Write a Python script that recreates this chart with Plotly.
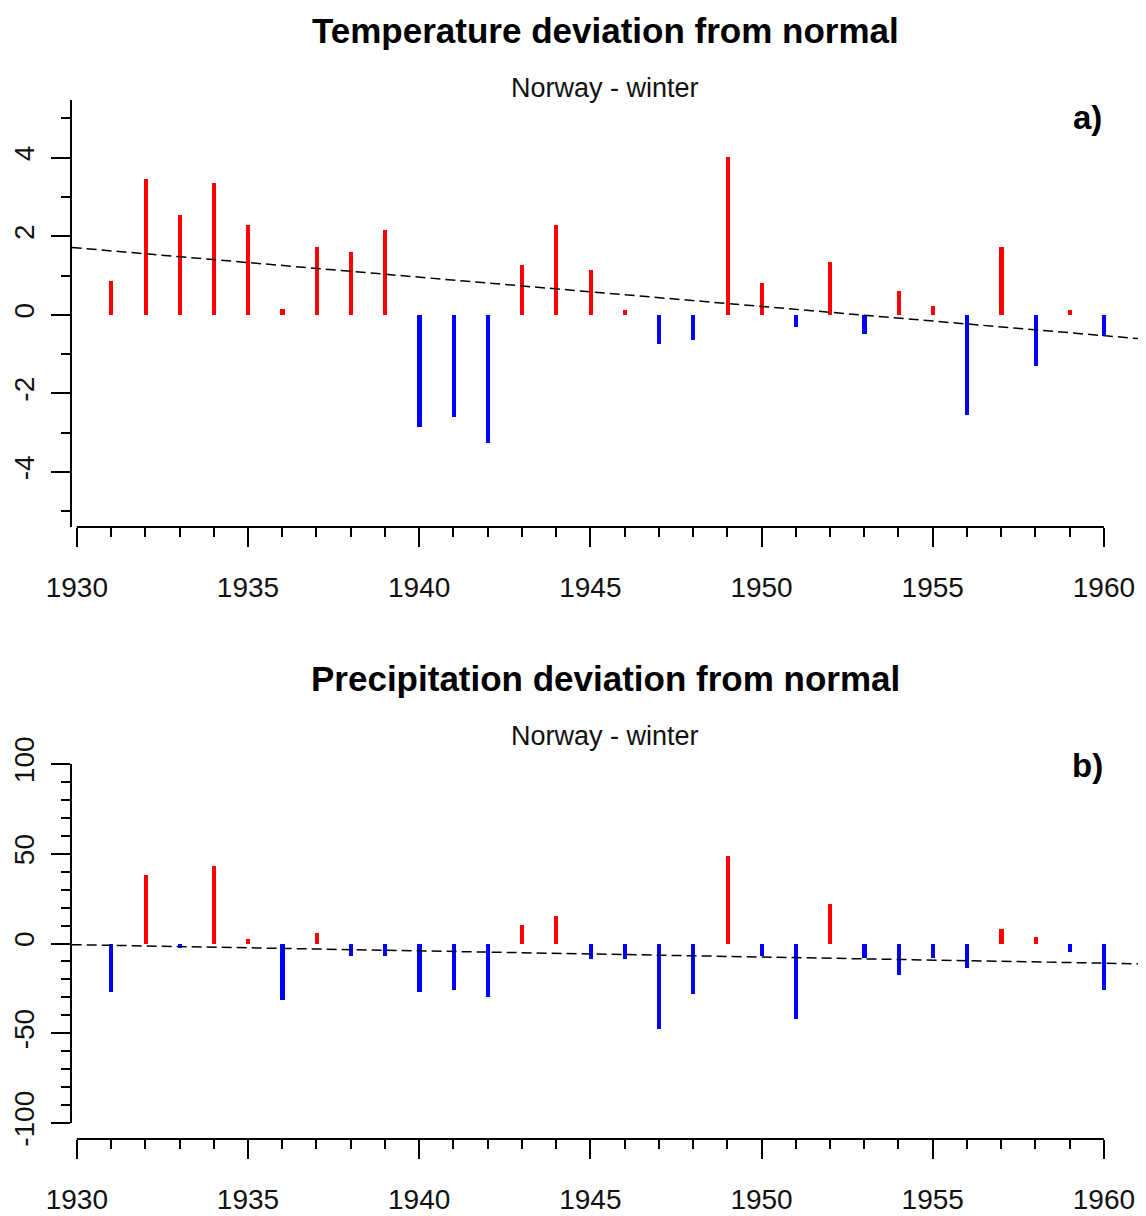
import numpy as np
import plotly.graph_objects as go

# ---------------- data ----------------
years = list(range(1931, 1961))
temp_dev = [0.85, 3.45, 2.55, 3.35, 2.30, 0.15, 1.72, 1.60, 2.15, -2.86,
            -2.61, -3.25, 1.28, 2.30, 1.13, 0.12, -0.75, -0.64, 4.02, 0.80,
            -0.30, 1.35, -0.49, 0.60, 0.22, -2.56, 1.73, -1.29, 0.12, -0.53]
precip_dev = [-27.0, 38.0, -2.5, 43.3, 2.6, -31.5, 5.9, -6.7, -6.7, -27.0,
              -26.0, -30.0, 10.2, 15.6, -8.9, -8.9, -47.4, -28.3, 48.5, -6.7,
              -42.2, 22.0, -8.0, -17.6, -8.0, -13.5, 8.1, 3.7, -4.6, -26.0]
x_tick_vals = [1930, 1935, 1940, 1945, 1950, 1955, 1960]
temp_tick_vals = [-4, -2, 0, 2, 4]
precip_tick_vals = [-100, -50, 0, 50, 100]
titles = ["Temperature deviation from normal", "Precipitation deviation from normal"]
subtitle = "Norway - winter"
panel_labels = ["a)", "b)"]

# ---------------- layout helpers ----------------
# the page body adds an 8px margin, so the figure is laid out in page pixels minus 8
OFF = 8
W, H = 1146 - OFF, 1216 - OFF
def py(p):
    return 1 - (p - OFF) / H
def px(p):
    return (p - OFF) / W

FONT = "Liberation Sans, Arial, Helvetica, sans-serif"
RED, BLUE = "#FF0000", "#0000FF"
XR = [1929.85, 1961.23]

fig = go.Figure()

def add_panel(vals, xa, ya):
    colors = [RED if v >= 0 else BLUE for v in vals]
    fig.add_trace(go.Bar(x=years, y=vals, base=0, width=0.12,
                         marker=dict(color=colors, line=dict(width=0)),
                         xaxis=xa, yaxis=ya, showlegend=False))
    coef = np.polyfit(years, vals, 1)
    tx = np.array(XR)
    fig.add_trace(go.Scatter(x=tx, y=np.polyval(coef, tx), mode="lines",
                             line=dict(color="black", width=1.5, dash="10px,5px"),
                             xaxis=xa, yaxis=ya, showlegend=False, cliponaxis=False))

add_panel(temp_dev, "x", "y")
add_panel(precip_dev, "x2", "y2")

def lab(v):
    return str(v).replace("\u2212", "-")

tickfont = dict(family=FONT, size=28, color="#111111")
xbase = dict(range=XR, tickmode="array", tickvals=x_tick_vals,
             ticktext=[lab(v) for v in x_tick_vals], ticks="outside", ticklen=19,
             tickwidth=2, tickcolor="black", showline=False, showgrid=False,
             zeroline=False, tickfont=tickfont, ticklabelstandoff=16, automargin=False,
             minor=dict(tickmode="array",
                        tickvals=[y for y in years if y % 5 != 0],
                        ticks="outside", ticklen=9, tickwidth=2, tickcolor="black",
                        showgrid=False))
ybase = dict(ticks="outside", ticklen=19, tickwidth=2, tickcolor="black",
             showline=True, linecolor="black", linewidth=2, showgrid=False,
             zeroline=False, tickfont=tickfont, tickangle=-90, ticklabelstandoff=6,
             automargin=False)

dom_x = [px(71.7), 1.0]
fig.update_layout(
    template="none",
    width=W, height=H, margin=dict(l=0, r=0, t=0, b=0, autoexpand=False),
    paper_bgcolor="white", plot_bgcolor="white", bargap=0,
    xaxis=dict(domain=dom_x, anchor="y", **xbase),
    yaxis=dict(domain=[py(527), py(100)], range=[-5.4, 5.47], anchor="x",
               tickmode="array", tickvals=temp_tick_vals,
               ticktext=[lab(v) for v in temp_tick_vals],
               minor=dict(dtick=1, ticks="outside", ticklen=9, tickwidth=2,
                          tickcolor="black", showgrid=False), **ybase),
    xaxis2=dict(domain=dom_x, anchor="free", position=py(1139), **xbase),
    yaxis2=dict(domain=[py(1123), py(764)], range=[-100, 100], anchor="x2",
                tickmode="array", tickvals=precip_tick_vals,
                ticktext=[lab(v) for v in precip_tick_vals],
                minor=dict(dtick=10, ticks="outside", ticklen=9, tickwidth=2,
                           tickcolor="black", showgrid=False), **ybase),
)

# x-axis lines spanning only the labelled years
for xr, yp in (("x", 527), ("x2", 1139)):
    fig.add_shape(type="line", xref=xr, yref="paper",
                  x0=x_tick_vals[0], x1=x_tick_vals[-1], y0=py(yp), y1=py(yp),
                  line=dict(color="black", width=2))

# titles / subtitles / panel labels
for title, ty, sy, label, ly in ((titles[0], 30, 88, panel_labels[0], 118),
                                 (titles[1], 678, 736, panel_labels[1], 765)):
    fig.add_annotation(text=title, xref="paper", yref="paper", x=px(605), y=py(ty),
                       xanchor="center", yanchor="middle", showarrow=False,
                       font=dict(family=FONT, size=35, color="black", weight="bold"))
    fig.add_annotation(text=subtitle, xref="paper", yref="paper", x=px(605), y=py(sy),
                       xanchor="center", yanchor="middle", showarrow=False,
                       font=dict(family=FONT, size=27, color="#111111"))
    fig.add_annotation(text=label, xref="paper", yref="paper", x=px(1087), y=py(ly),
                       xanchor="center", yanchor="middle", showarrow=False,
                       font=dict(family=FONT, size=33, color="black", weight="bold"))

fig.write_html("out.html")
